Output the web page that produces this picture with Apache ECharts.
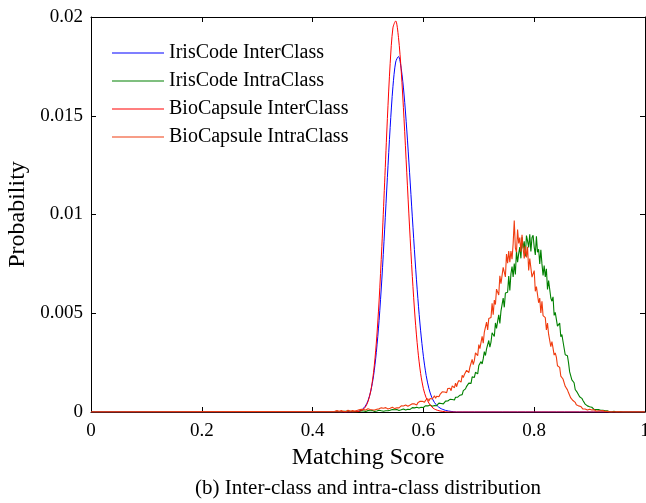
<!DOCTYPE html>
<html>
<head>
<meta charset="utf-8">
<script src="https://cdn.jsdelivr.net/npm/echarts@6/dist/echarts.min.js"></script>
<style>
html,body{margin:0;padding:0;background:#fff;}
#chart{width:646px;height:503px;}
</style>
</head>
<body>
<div id="chart"></div>
<script>
// ---- data ----
const seriesNames = ['IrisCode InterClass', 'IrisCode IntraClass', 'BioCapsule InterClass', 'BioCapsule IntraClass'];
const xTicks = [0, 0.2, 0.4, 0.6, 0.8, 1];
const yTicks = [0, 0.005, 0.01, 0.015, 0.02];

// inter-class curves: bins from 0.47, step 0.005
const interStart = 0.47, interStep = 0.005;
const irisInter = [0.000004, 0.00001, 0.000027, 0.00006, 0.00014, 0.00029, 0.00057, 0.00106, 0.00183, 0.00301,
  0.00464, 0.00673, 0.00922, 0.01188, 0.01441, 0.01647, 0.01772, 0.018, 0.01738, 0.0161,
  0.01428, 0.01214, 0.00988, 0.0077, 0.00575, 0.00411, 0.00282, 0.00185, 0.00118, 0.00075,
  0.00048, 0.00031, 0.0002, 0.00013, 0.00008, 0.00005, 0.00003, 0.00001, 0];
const bioInter = [0, 0.000005, 0.000015, 0.00004, 0.0001, 0.00024, 0.00053, 0.00107, 0.002, 0.00349,
  0.00562, 0.00839, 0.0116, 0.01486, 0.01764, 0.01945, 0.0198, 0.01897, 0.01725, 0.01485,
  0.01211, 0.00937, 0.00686, 0.00476, 0.00313, 0.00195, 0.00118, 0.00072, 0.00045, 0.00026,
  0.00015, 0.00009, 0.00005, 0.00003, 0.00001, 0, 0, 0, 0];

// intra-class histograms: bins from 0.44, step 0.002
const intraStart = 0.44, intraStep = 0.002;
const irisIntra = [
  0, 0.00002, 0.00003, 0, 0, 0.00004, 0, 0.00002, 0.00004, 0,
  0.00003, 0, 0.00005, 0.00002, 0.00004, 0.00005, 0.00001, 0.00006, 0.00002, 0.00004,
  0, 0.00005, 0.00003, 0.00002, 0.00007, 0.00001, 0.00005, 0.00006, 0.00003, 0.00002,
  0.00007, 0.00004, 0.00006, 0.00003, 0.00008, 0.00005, 0.00003, 0.00007, 0.00005, 0.00009,
  0.00009, 0.00004, 0.00006, 0.00009, 0.00004, 0.00008, 0.00006, 0.00011, 0.00006, 0.0001,
  0.00009, 0.00007, 0.00013, 0.00006, 0.00011, 0.00008, 0.00013, 0.00011, 0.00008, 0.00015,
  0.00011, 0.00011, 0.00015, 0.00015, 0.0001, 0.00018, 0.00014, 0.00018, 0.00013, 0.00017,
  0.00022, 0.00016, 0.00021, 0.00019, 0.00024, 0.00018, 0.0002, 0.00026, 0.00024, 0.0002,
  0.00023, 0.00022, 0.00032, 0.00028, 0.00031, 0.00027, 0.00036, 0.00032, 0.00029, 0.00037,
  0.00033, 0.00041, 0.00032, 0.00041, 0.00045, 0.00039, 0.00043, 0.00052, 0.00041, 0.00049,
  0.00055, 0.00048, 0.00056, 0.00049, 0.00064, 0.00057, 0.00063, 0.00068, 0.00061, 0.00075,
  0.00068, 0.00075, 0.00067, 0.00085, 0.00086, 0.00088, 0.00108, 0.00099, 0.00117, 0.0013,
  0.00123, 0.00146, 0.00147, 0.00145, 0.00178, 0.00171, 0.00175, 0.00201, 0.00205, 0.00193,
  0.00235, 0.00227, 0.00255, 0.00243, 0.0027, 0.00306, 0.00286, 0.0032, 0.00318, 0.00362,
  0.00328, 0.00354, 0.00401, 0.00401, 0.00382, 0.00451, 0.00423, 0.00459, 0.00492, 0.00448,
  0.00511, 0.00512, 0.00577, 0.0053, 0.00602, 0.00609, 0.00606, 0.00688, 0.00616, 0.007,
  0.00736, 0.00684, 0.00752, 0.00696, 0.00816, 0.00758, 0.00802, 0.00835, 0.00778, 0.00885,
  0.00828, 0.00864, 0.00788, 0.00893, 0.00866, 0.00833, 0.009, 0.00813, 0.00883, 0.00895,
  0.00835, 0.00795, 0.0089, 0.00809, 0.00824, 0.0075, 0.00821, 0.0075, 0.00692, 0.00742,
  0.00684, 0.00725, 0.0062, 0.00665, 0.00658, 0.00577, 0.00561, 0.00583, 0.00489, 0.00504,
  0.00498, 0.00435, 0.0044, 0.0045, 0.00381, 0.00392, 0.00357, 0.00362, 0.0029, 0.0028,
  0.00285, 0.00249, 0.00203, 0.00209, 0.00163, 0.00156, 0.00148, 0.00114, 0.00113, 0.00098,
  0.00098, 0.00077, 0.00079, 0.00069, 0.00058, 0.00059, 0.0004, 0.00042, 0.00031, 0.00034,
  0.00027, 0.00019, 0.00024, 0.00017, 0.00013, 0.00015, 0.00012, 0.00006, 0.00012, 0.00007,
  0.00009, 0.00004, 0.00009, 0.00005, 0.00006, 0.00001, 0.00006, 0.00004, 0.00001, 0.00005,
  0, 0.00003, 0.00004, 0.00001, 0, 0.00004, 0.00001, 0, 0.00001, 0, 0];
const bioIntra = [
  0.00004, 0, 0.00007, 0.00002, 0.00004, 0, 0.00007, 0.00005, 0.00003, 0.00008,
  0.00001, 0.00006, 0.00009, 0.00005, 0.00004, 0.00011, 0.00007, 0.00009, 0.00005, 0.00012,
  0.00008, 0.00006, 0.00011, 0.00008, 0.00014, 0.00006, 0.00012, 0.00014, 0.0001, 0.00011,
  0.00016, 0.00009, 0.00013, 0.00017, 0.00011, 0.00016, 0.0001, 0.0002, 0.00014, 0.00016,
  0.00016, 0.00014, 0.00021, 0.00012, 0.00019, 0.00014, 0.00022, 0.00019, 0.00015, 0.00024,
  0.00019, 0.00018, 0.00024, 0.00023, 0.00017, 0.00027, 0.00021, 0.00027, 0.00021, 0.00026,
  0.00031, 0.00024, 0.0003, 0.00028, 0.00035, 0.00025, 0.00029, 0.00037, 0.00035, 0.0003,
  0.00042, 0.00035, 0.00041, 0.00046, 0.00036, 0.00047, 0.00045, 0.00054, 0.00044, 0.00054,
  0.00052, 0.00049, 0.0006, 0.00056, 0.00067, 0.00055, 0.00068, 0.00073, 0.00066, 0.0007,
  0.00082, 0.00069, 0.0008, 0.00088, 0.00077, 0.00089, 0.00079, 0.00102, 0.00092, 0.00101,
  0.00108, 0.00098, 0.00119, 0.0011, 0.0012, 0.00108, 0.00132, 0.00128, 0.00123, 0.00146,
  0.00128, 0.00148, 0.0016, 0.00151, 0.00151, 0.00186, 0.00175, 0.0019, 0.0018, 0.00211,
  0.00216, 0.00199, 0.00228, 0.0023, 0.00266, 0.0024, 0.00261, 0.00299, 0.003, 0.00285,
  0.00341, 0.00321, 0.00353, 0.00383, 0.00349, 0.00405, 0.00403, 0.00455, 0.00416, 0.00473,
  0.00477, 0.00478, 0.0055, 0.00493, 0.00567, 0.00544, 0.00622, 0.00615, 0.00592, 0.0069,
  0.0065, 0.00654, 0.00732, 0.00736, 0.00684, 0.008, 0.00753, 0.00815, 0.00758, 0.00815,
  0.00774, 0.00853, 0.0097, 0.0083, 0.00809, 0.00924, 0.00854, 0.00883, 0.00812, 0.00897,
  0.0083, 0.00777, 0.0084, 0.00782, 0.00837, 0.00717, 0.00777, 0.00769, 0.00683, 0.0068,
  0.00716, 0.00611, 0.00635, 0.00638, 0.00553, 0.00577, 0.00502, 0.0056, 0.00488, 0.00488,
  0.00478, 0.00416, 0.0045, 0.00394, 0.00389, 0.00331, 0.00357, 0.00323, 0.00288, 0.00299,
  0.00278, 0.00234, 0.00232, 0.00226, 0.00182, 0.0019, 0.00167, 0.00169, 0.0013, 0.00131,
  0.00112, 0.00097, 0.001, 0.00071, 0.00074, 0.00058, 0.00061, 0.00049, 0.00037, 0.00043,
  0.00031, 0.00026, 0.00028, 0.00024, 0.00015, 0.00022, 0.00015, 0.00017, 0.0001, 0.00012,
  0.00014, 0.00006, 0.0001, 0.00007, 0.00012, 0.00003, 0.00004, 0.00009, 0.00006, 0.00001,
  0.00006, 0, 0.00007, 0.00002, 0.00003, 0, 0.00004, 0.00002, 0, 0.00004,
  0, 0.00001, 0, 0.00002, 0, 0, 0.00001, 0, 0, 0, 0];

const xLabel = 'Matching Score';
const yLabel = 'Probability';
const caption = '(b) Inter-class and intra-class distribution';

// ---- build ----
function toPairs(vals, start, step) {
  const out = [[0, 0]];
  vals.forEach((v, i) => out.push([+(start + i * step).toFixed(4), v]));
  out.push([1, 0]);
  return out;
}
const colors = ['#0000ff', '#008000', '#ff0000', '#f03c10'];
const dataSets = [
  toPairs(irisInter, interStart, interStep),
  toPairs(irisIntra, intraStart, intraStep),
  toPairs(bioInter, interStart, interStep),
  toPairs(bioIntra, intraStart, intraStep)
];
const FONT = '"Liberation Serif", "Times New Roman", serif';

const chart = echarts.init(document.getElementById('chart'), null, {renderer: 'canvas'});
const axisCommon = {
  type: 'value',
  axisLine: {show: true, onZero: false, lineStyle: {color: '#000', width: 1}},
  axisTick: {show: true, inside: true, length: 5, lineStyle: {color: '#000', width: 1}},
  splitLine: {show: false}
};
chart.setOption({
  animation: false,
  backgroundColor: '#fff',
  grid: {left: 91, right: 1, top: 17, bottom: 91, containLabel: false, outerBoundsMode: 'none'},
  legend: {
    orient: 'vertical', left: 107, top: 38,
    itemWidth: 52, itemHeight: 20, itemGap: 8,
    icon: 'path://M0,0 L52,0 L52,1 L0,1 Z',
    textStyle: {fontFamily: FONT, fontSize: 20, color: '#000'},
    data: seriesNames
  },
  xAxis: [
    Object.assign({}, axisCommon, {
      position: 'bottom', min: xTicks[0], max: xTicks[xTicks.length - 1], interval: 0.2,
      name: xLabel, nameLocation: 'middle', nameGap: 25,
      nameTextStyle: {fontFamily: FONT, fontSize: 24, color: '#000'},
      axisLabel: {show: true, margin: 10, fontFamily: FONT, fontSize: 19, color: '#000'}
    }),
    Object.assign({}, axisCommon, {
      position: 'top', min: xTicks[0], max: xTicks[xTicks.length - 1], interval: 0.2,
      axisLabel: {show: false}
    })
  ],
  yAxis: [
    Object.assign({}, axisCommon, {
      position: 'left', min: yTicks[0], max: yTicks[yTicks.length - 1], interval: 0.005,
      name: yLabel, nameLocation: 'middle', nameGap: 57,
      nameTextStyle: {fontFamily: FONT, fontSize: 24, color: '#000'},
      axisLabel: {show: true, margin: 8, fontFamily: FONT, fontSize: 19, color: '#000'}
    }),
    Object.assign({}, axisCommon, {
      position: 'right', min: yTicks[0], max: yTicks[yTicks.length - 1], interval: 0.005,
      axisLabel: {show: false}
    })
  ],
  series: seriesNames.map((n, k) => ({
    name: n, type: 'line', xAxisIndex: 0, yAxisIndex: 0,
    data: dataSets[k], showSymbol: false, symbol: 'none',
    smooth: (k === 0 || k === 2) ? 0.3 : false,
    color: colors[k],
    lineStyle: {color: colors[k], width: (k === 1 || k === 3) ? 1.1 : 1},
    itemStyle: {color: colors[k]},
    emphasis: {disabled: true}
  })),
  graphic: [{
    type: 'text', x: 368, y: 488,
    style: {text: caption, fontFamily: FONT, fontSize: 21, fill: '#000', textAlign: 'center', textVerticalAlign: 'middle'}
  }]
});
</script>
</body>
</html>
